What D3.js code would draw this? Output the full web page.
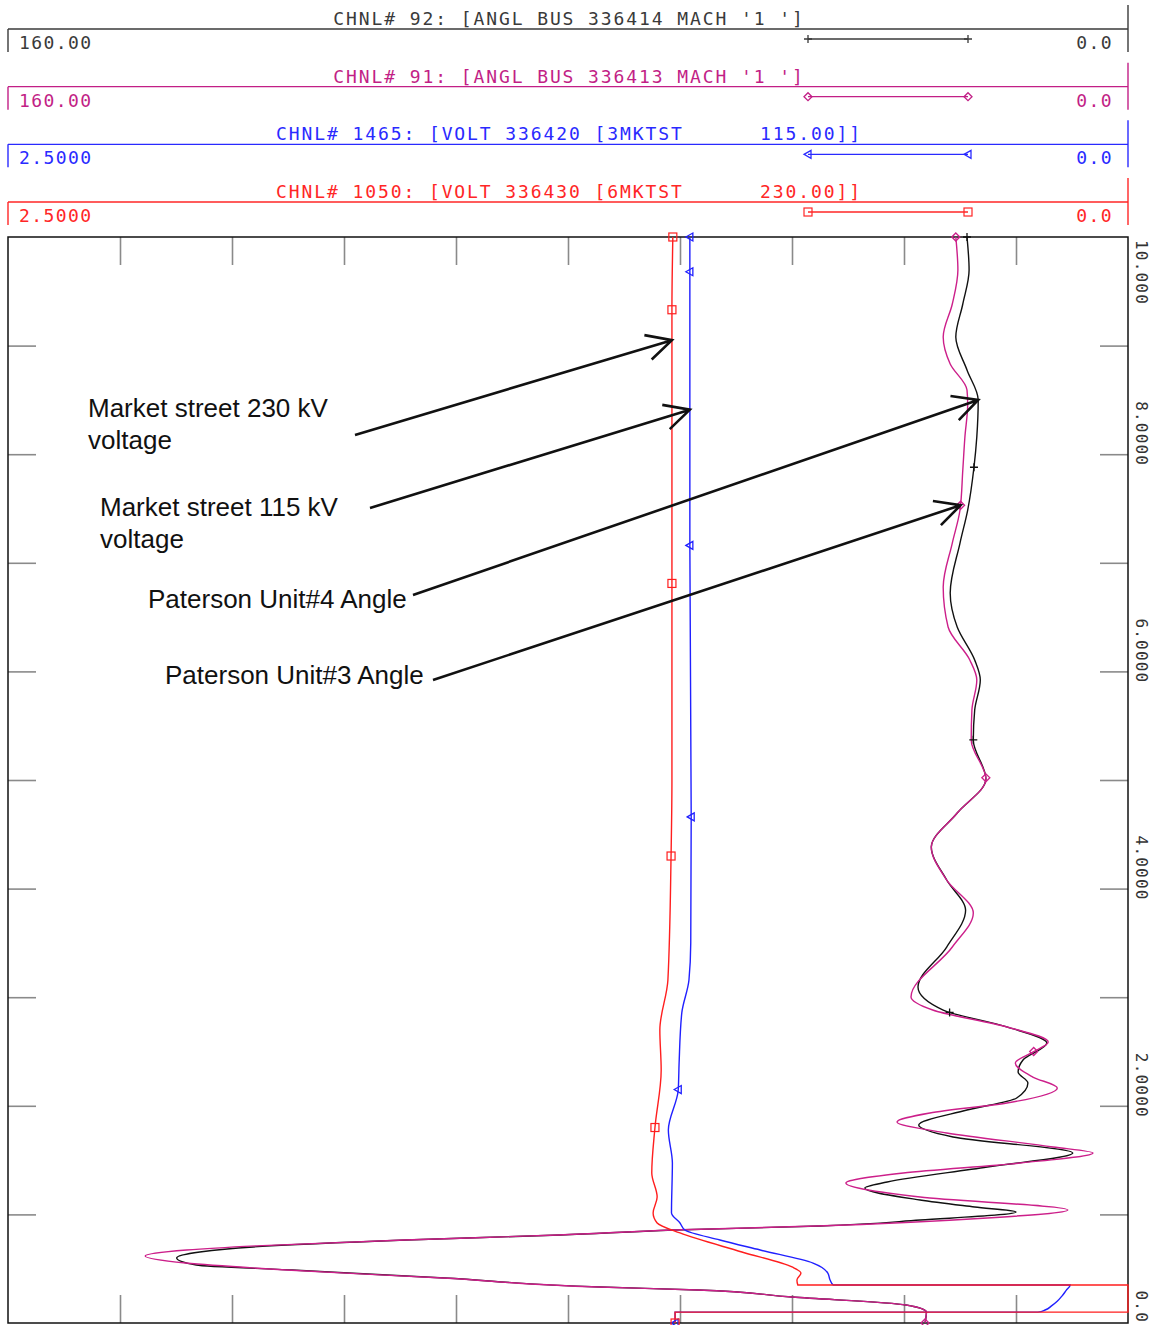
<!DOCTYPE html>
<html>
<head>
<meta charset="utf-8">
<script src="https://cdn.jsdelivr.net/npm/d3@7"></script>
<style>
  html, body { margin: 0; padding: 0; background: #fff; }
  svg { display: block; }
  .mono { font-family: "DejaVu Sans Mono", "Liberation Mono", monospace; }
  .note { font-family: "Liberation Sans", Arial, sans-serif; font-size: 26px; fill: #111; }
</style>
</head>
<body>
<svg id="chart" width="1155" height="1325"></svg>
<script>
// ---- channel headers -------------------------------------------------------
const channelTitles = [
  "CHNL# 92: [ANGL BUS 336414 MACH '1 ']",
  "CHNL# 91: [ANGL BUS 336413 MACH '1 ']",
  "CHNL# 1465: [VOLT 336420 [3MKTST      115.00]]",
  "CHNL# 1050: [VOLT 336430 [6MKTST      230.00]]"
];
const channelMaxLabels = ["160.00", "160.00", "2.5000", "2.5000"];
const channelMinLabels = ["0.0", "0.0", "0.0", "0.0"];
const channelColors = ["#3a3a3a", "#c21f86", "#2a2aff", "#ff2626"];
const traceColors   = ["#111111", "#cc1f8a", "#2020ff", "#ff1e1e"];
const channelMarkers = ["plus", "diamond", "triangle", "square"];

// ---- time axis (s) ---------------------------------------------------------
const timeTicks = [0, 2, 4, 6, 8, 10];
const timeTickLabels = ["0.0", "2.0000", "4.0000", "6.0000", "8.0000", "10.000"];
const timeMinorTicks = [1, 2, 3, 4, 5, 6, 7, 8, 9];
const angleGridTicks = [16, 32, 48, 64, 80, 96, 112, 128, 144];

// ---- traces: [time (s), value] ---------------------------------------------
// CHNL 92: machine angle, bus 336414 (deg)
const angle92 = [
  [0.00, 29.0], [0.10, 28.8], [0.166, 31.7], [0.239, 48.0], [0.304, 61.4],
  [0.331, 75.4], [0.414, 97.6], [0.488, 119.4], [0.534, 133.1], [0.599, 135.9],
  [0.654, 132.6], [0.700, 125.0], [0.764, 103.1], [0.810, 81.1], [0.856, 64.7],
  [0.893, 44.0], [0.948, 29.7], [1.022, 16.0], [1.068, 21.9], [1.133, 29.7],
  [1.243, 37.6], [1.298, 34.4], [1.436, 20.1], [1.565, 7.9], [1.713, 25.0],
  [1.823, 29.9], [1.961, 23.0], [2.072, 15.9], [2.210, 14.3], [2.311, 15.7],
  [2.422, 15.0], [2.578, 11.6], [2.726, 17.3], [2.882, 26.4], [3.094, 30.0],
  [3.462, 25.9], [3.800, 23.2], [4.079, 25.9], [4.383, 28.1], [4.696, 24.4],
  [5.009, 20.3], [5.368, 22.1], [5.645, 21.9], [5.921, 21.1], [6.105, 21.9],
  [6.409, 24.4], [6.722, 25.4], [7.182, 24.0], [7.486, 22.9], [7.882, 22.0],
  [8.158, 21.6], [8.499, 21.4], [8.775, 23.0], [9.079, 24.6], [9.383, 23.6],
  [9.696, 22.7], [10.0, 23.0]
];
// CHNL 91: machine angle, bus 336413 (deg)
const angle91 = [
  [0.00, 29.0], [0.10, 28.8], [0.166, 31.7], [0.239, 48.0], [0.304, 61.5],
  [0.331, 75.6], [0.414, 97.9], [0.488, 120.2], [0.552, 134.6], [0.617, 140.4],
  [0.672, 134.5], [0.710, 124.5], [0.764, 103.4], [0.810, 81.4], [0.856, 65.0],
  [0.893, 44.5], [0.967, 20.1], [1.041, 8.6], [1.160, 29.7], [1.289, 40.3],
  [1.381, 32.1], [1.473, 15.4], [1.565, 5.0], [1.621, 10.7], [1.750, 25.9],
  [1.851, 33.0], [1.934, 28.3], [2.026, 17.3], [2.164, 10.1], [2.265, 13.6],
  [2.394, 16.1], [2.495, 13.6], [2.587, 11.4], [2.726, 17.3], [2.882, 27.9],
  [3.002, 31.0], [3.462, 25.1], [3.775, 22.1], [4.079, 25.9], [4.383, 28.1],
  [4.696, 24.4], [5.009, 20.3], [5.368, 22.4], [5.645, 22.3], [5.921, 21.6],
  [6.105, 22.6], [6.409, 25.7], [6.777, 26.4], [7.182, 25.1], [7.486, 24.0],
  [7.855, 23.6], [8.158, 23.3], [8.462, 22.9], [8.591, 23.0], [8.831, 25.4],
  [9.079, 26.4], [9.383, 25.1], [9.696, 24.3], [10.0, 24.6]
];
// CHNL 1465: voltage, bus 336420 3MKTST 115 kV (pu)
const volt1465 = [
  [0.00, 1.011], [0.10, 1.011], [0.1001, 0.201], [0.12, 0.185], [0.16, 0.170],
  [0.20, 0.158], [0.25, 0.147], [0.30, 0.138], [0.35, 0.129], [0.3501, 0.658],
  [0.396, 0.665], [0.460, 0.670], [0.552, 0.703], [0.672, 0.821], [0.764, 0.911],
  [0.856, 0.989], [0.921, 1.000], [1.013, 1.019], [1.473, 1.017], [1.777, 1.026],
  [2.145, 1.004], [2.394, 1.002], [2.855, 0.996], [3.158, 0.980], [3.500, 0.976],
  [4.659, 0.975], [7.164, 0.978], [10.0, 0.978]
];
// CHNL 1050: voltage, bus 336430 6MKTST 230 kV (pu)
const volt1050 = [
  [0.00, 1.011], [0.10, 1.011], [0.1001, 0.0], [0.35, 0.0], [0.3501, 0.737],
  [0.396, 0.739], [0.460, 0.730], [0.516, 0.750], [0.654, 0.862], [0.829, 1.000],
  [0.921, 1.051], [1.013, 1.060], [1.160, 1.051], [1.381, 1.063], [1.796, 1.056],
  [2.330, 1.042], [2.698, 1.045], [3.158, 1.027], [4.291, 1.020], [5.000, 1.018],
  [6.814, 1.018], [9.328, 1.018], [10.0, 1.016]
];
// symbol positions along each trace (s)
const markerTimes92 = [2.86, 5.37, 7.88, 10.0];
const markerTimes91 = [0.0, 2.50, 5.02, 7.53, 10.0];
const markerTimes1465 = [0.0, 2.15, 4.66, 7.16, 9.68, 10.0];
const markerTimes1050 = [0.0, 1.80, 4.30, 6.81, 9.33, 10.0];

// ---- callouts --------------------------------------------------------------
const calloutText = [
  ["Market street 230 kV", "voltage"],
  ["Market street 115 kV", "voltage"],
  ["Paterson Unit#4 Angle"],
  ["Paterson Unit#3 Angle"]
];
const calloutTrace = [3, 2, 0, 1];          // index of the trace pointed at
const calloutTime = [9.05, 8.41, 8.50, 7.53]; // where the arrow lands (s)

// ---------------------------------------------------------------------------
const svg = d3.select("#chart");
const plot = { left: 8, right: 1128, top: 237, bottom: 1323 };

const yT = d3.scaleLinear().domain([0, 10]).range([plot.bottom, plot.top]);
const xAngle = d3.scaleLinear().domain([160, 0]).range([plot.left, plot.right]);
const xVolt = d3.scaleLinear().domain([2.5, 0]).range([plot.left, plot.right]);

const traces = [
  { data: angle92, x: xAngle, marks: markerTimes92 },
  { data: angle91, x: xAngle, marks: markerTimes91 },
  { data: volt1465, x: xVolt, marks: markerTimes1465 },
  { data: volt1050, x: xVolt, marks: markerTimes1050 }
];

function drawMarker(g, type, x, y, color) {
  const s = 4;
  if (type === "plus") {
    g.append("path").attr("d", `M${x - s},${y}H${x + s}M${x},${y - s}V${y + s}`)
      .attr("stroke", color).attr("stroke-width", 1.3).attr("fill", "none");
  } else if (type === "diamond") {
    g.append("path").attr("d", `M${x - s},${y}L${x},${y - s}L${x + s},${y}L${x},${y + s}Z`)
      .attr("stroke", color).attr("stroke-width", 1.3).attr("fill", "none");
  } else if (type === "triangle") {
    g.append("path").attr("d", `M${x - s},${y}L${x + s - 1},${y - s}L${x + s - 1},${y + s}Z`)
      .attr("stroke", color).attr("stroke-width", 1.3).attr("fill", "none");
  } else {
    g.append("rect").attr("x", x - s).attr("y", y - s).attr("width", 2 * s).attr("height", 2 * s)
      .attr("stroke", color).attr("stroke-width", 1.2).attr("fill", "none");
  }
}

// ---- headers ---------------------------------------------------------------
const header = svg.append("g").attr("class", "mono");
channelTitles.forEach((title, i) => {
  const ly = 29 + i * 57.67;
  const c = channelColors[i];
  header.append("line").attr("x1", plot.left).attr("x2", plot.right).attr("y1", ly).attr("y2", ly)
    .attr("stroke", c).attr("stroke-width", 1.4);
  header.append("line").attr("x1", plot.left).attr("x2", plot.left).attr("y1", ly).attr("y2", ly + 23)
    .attr("stroke", c).attr("stroke-width", 1.4);
  header.append("line").attr("x1", plot.right).attr("x2", plot.right).attr("y1", ly - 24).attr("y2", ly + 23)
    .attr("stroke", c).attr("stroke-width", 1.4);
  header.append("text").attr("x", 568 + 1).attr("y", ly - 4)
    .attr("text-anchor", "middle").attr("xml:space", "preserve").style("white-space", "pre")
    .attr("font-size", 18).attr("letter-spacing", 1.9).attr("fill", c).text(title);
  header.append("text").attr("x", 19).attr("y", ly + 20)
    .attr("font-size", 18).attr("letter-spacing", 1.4).attr("fill", c).text(channelMaxLabels[i]);
  header.append("text").attr("x", 1113).attr("y", ly + 20).attr("text-anchor", "end")
    .attr("font-size", 18).attr("letter-spacing", 1.4).attr("fill", c).text(channelMinLabels[i]);
  const legY = ly + 10;
  header.append("line").attr("x1", 808).attr("x2", 968).attr("y1", legY).attr("y2", legY)
    .attr("stroke", c).attr("stroke-width", 1.3);
  drawMarker(header, channelMarkers[i], 808, legY, c);
  drawMarker(header, channelMarkers[i], 968, legY, c);
});

// ---- frame and ticks -------------------------------------------------------
const axes = svg.append("g");
const tickStyle = g => {
  g.select(".domain").remove();
  g.selectAll(".tick line").attr("stroke", "#8a8a8a").attr("stroke-width", 1.6);
  g.selectAll(".tick text").remove();
};
axes.append("g").attr("transform", `translate(0,${plot.top})`)
  .call(d3.axisBottom(xAngle).tickValues(angleGridTicks).tickSize(28)).call(tickStyle);
axes.append("g").attr("transform", `translate(0,${plot.bottom})`)
  .call(d3.axisTop(xAngle).tickValues(angleGridTicks).tickSize(28)).call(tickStyle);
axes.append("g").attr("transform", `translate(${plot.right},0)`)
  .call(d3.axisLeft(yT).tickValues(timeMinorTicks).tickSize(28)).call(tickStyle);
axes.append("g").attr("transform", `translate(${plot.left},0)`)
  .call(d3.axisRight(yT).tickValues(timeMinorTicks).tickSize(28)).call(tickStyle);

axes.append("rect").attr("x", plot.left).attr("y", plot.top)
  .attr("width", plot.right - plot.left).attr("height", plot.bottom - plot.top)
  .attr("fill", "none").attr("stroke", "#111").attr("stroke-width", 1.5);

// rotated time labels on the right side
timeTicks.forEach((t, i) => {
  const y = yT(t);
  let anchor = "end", pos = y + 12;
  if (t === 10) { anchor = "start"; pos = plot.top + 3; }
  if (t === 0) { pos = plot.bottom; }
  axes.append("text").attr("class", "mono")
    .attr("transform", `translate(1136,${pos}) rotate(90)`)
    .attr("text-anchor", anchor).attr("font-size", 16).attr("letter-spacing", 1.2)
    .attr("fill", "#333").text(timeTickLabels[i]);
});

// ---- traces ----------------------------------------------------------------
const traceG = svg.append("g");
const pathNodes = traces.map((tr, i) => {
  const line = d3.line().x(d => tr.x(d[1])).y(d => yT(d[0])).curve(d3.curveMonotoneY);
  return traceG.append("path").attr("d", line(tr.data)).attr("fill", "none")
    .attr("stroke", traceColors[i]).attr("stroke-width", 1.4).node();
});

// find the point of a trace at a given time (screen y decreases along the path)
function pointAt(node, t) {
  const target = yT(t);
  let lo = 0, hi = node.getTotalLength();
  for (let k = 0; k < 40; k++) {
    const mid = (lo + hi) / 2;
    const p = node.getPointAtLength(mid);
    if (p.y > target) lo = mid; else hi = mid;
  }
  return node.getPointAtLength((lo + hi) / 2);
}

traces.forEach((tr, i) => {
  tr.marks.forEach(t => {
    const p = pointAt(pathNodes[i], t);
    drawMarker(traceG, channelMarkers[i], p.x, p.y, traceColors[i]);
  });
});

// ---- callouts --------------------------------------------------------------
const noteG = svg.append("g");
const noteBox = [
  { x: 88, y: 417, tail: [355, 435] },
  { x: 100, y: 516, tail: [370, 508] },
  { x: 148, y: 608, tail: [413, 595] },
  { x: 165, y: 684, tail: [433, 680] }
];
calloutText.forEach((lines, i) => {
  const b = noteBox[i];
  const txt = noteG.append("text").attr("class", "note").attr("x", b.x).attr("y", b.y);
  lines.forEach((ln, j) => txt.append("tspan").attr("x", b.x).attr("dy", j ? 32 : 0).text(ln));
  const tip = pointAt(pathNodes[calloutTrace[i]], calloutTime[i]);
  const [x0, y0] = b.tail;
  const ang = Math.atan2(tip.y - y0, tip.x - x0);
  const L = 28, a = 27 * Math.PI / 180;
  const h1 = [tip.x - L * Math.cos(ang - a), tip.y - L * Math.sin(ang - a)];
  const h2 = [tip.x - L * Math.cos(ang + a), tip.y - L * Math.sin(ang + a)];
  noteG.append("path")
    .attr("d", `M${x0},${y0}L${tip.x},${tip.y}M${h1[0]},${h1[1]}L${tip.x},${tip.y}L${h2[0]},${h2[1]}`)
    .attr("fill", "none").attr("stroke", "#111").attr("stroke-width", 2.6)
    .attr("stroke-linejoin", "miter");
});
</script>
</body>
</html>
